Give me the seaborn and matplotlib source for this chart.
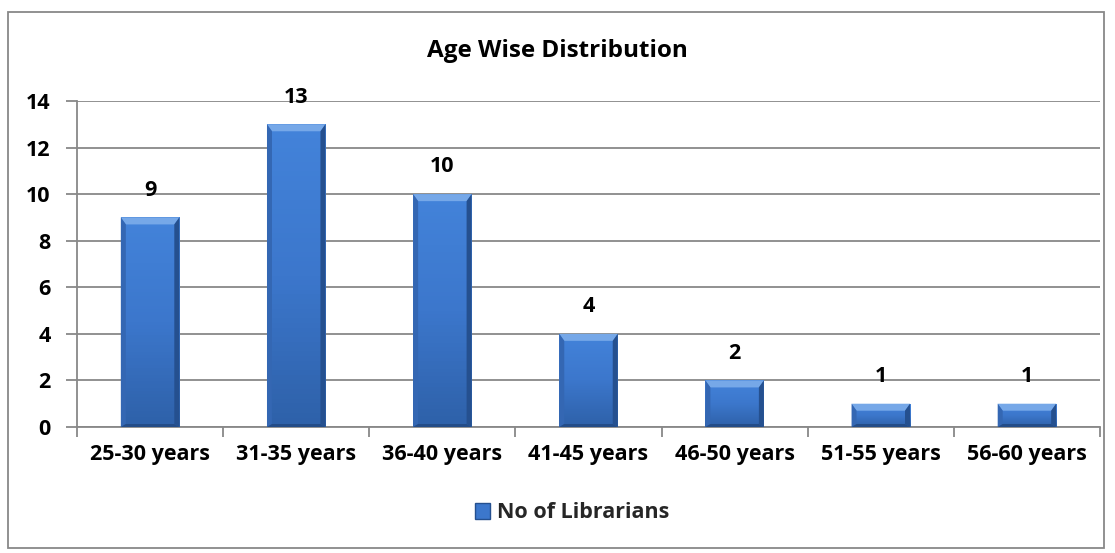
import matplotlib
matplotlib.use("Agg")
import matplotlib.pyplot as plt
import seaborn as sns
import pandas as pd
import numpy as np
from matplotlib.patches import Rectangle, Polygon
from matplotlib.colors import LinearSegmentedColormap

categories = ["25-30 years", "31-35 years", "36-40 years", "41-45 years",
              "46-50 years", "51-55 years", "56-60 years"]
values = [9, 13, 10, 4, 2, 1, 1]
series_name = "No of Librarians"
title = "Age Wise Distribution"
yticks = [0, 2, 4, 6, 8, 10, 12, 14]

sns.set_theme(style="white")
plt.rcParams['font.family'] = ['Open Sans', 'DejaVu Sans']

df = pd.DataFrame({"Age": categories, "Count": values})

W, H = 1115, 553
fig = plt.figure(figsize=(W / 100, H / 100), dpi=100)
ax = fig.add_axes([77/W, 1-427/H, (1100-77)/W, (427-101)/H])

base = "#3a72c4"
sns.barplot(data=df, x="Age", y="Count", ax=ax, color=base, width=0.4,
            saturation=1, edgecolor="none", zorder=3)

ax.set_ylim(0, 14)
ax.set_xlim(-0.5, len(categories) - 0.5)

# pixel -> data conversions for bevel sizes
ppx = ax.get_position().width * W / (len(categories))      # px per x unit
ppy = ax.get_position().height * H / 14.0                    # px per y unit
bx = 5.0 / ppx
by = 7.0 / ppy
bb = 3.0 / ppy

grad = LinearSegmentedColormap.from_list("g", ["#2e61a9", "#3c77cc", "#4383da"])
for p in list(ax.patches):
    x0, y0 = p.get_x(), p.get_y()
    w, h = p.get_width(), p.get_height()
    x1, y1 = x0 + w, y0 + h
    img = ax.imshow(np.linspace(0, 1, 64).reshape(-1, 1), cmap=grad, origin='lower',
                    extent=(x0, x1, y0, y1), aspect='auto', zorder=3.5)
    img.set_clip_path(p)
    top = Polygon([(x0, y1), (x1, y1), (x1 - bx, y1 - by), (x0 + bx, y1 - by)],
                  closed=True, facecolor="#76a8e8", edgecolor="none", zorder=4)
    left = Polygon([(x0, y0), (x0, y1), (x0 + bx, y1 - by), (x0 + bx, y0 + bb)],
                   closed=True, facecolor="#3467b3", edgecolor="none", zorder=4)
    right = Polygon([(x1, y0), (x1, y1), (x1 - bx, y1 - by), (x1 - bx, y0 + bb)],
                    closed=True, facecolor="#25508f", edgecolor="none", zorder=4)
    bottom = Polygon([(x0, y0), (x1, y0), (x1 - bx, y0 + bb), (x0 + bx, y0 + bb)],
                     closed=True, facecolor="#234c88", edgecolor="none", zorder=4)
    for poly in (top, left, right, bottom):
        ax.add_patch(poly)

ax.set_xlim(-0.5, len(categories) - 0.5)
ax.set_ylim(0, 14)
ax.set_yticks(yticks)
ax.set_yticklabels([str(t) for t in yticks], fontsize=15.5, fontweight='bold')
ax.set_xticks(range(len(categories)))
ax.set_xticklabels(categories, fontsize=15.5, fontweight='bold')
ax.set_xlabel("")
ax.set_ylabel("")
ax.grid(axis='y', color='#888888', linewidth=1.3, zorder=0)
ax.set_axisbelow(True)
for s in ["top", "right"]:
    ax.spines[s].set_visible(False)
for s in ["left", "bottom"]:
    ax.spines[s].set_color("#888888")
    ax.spines[s].set_linewidth(1.3)

ax.tick_params(axis='y', which='major', left=True, length=8, width=1.3,
               color="#888888", pad=11, labelcolor='black')
ax.tick_params(axis='x', which='major', bottom=False, length=0, pad=12, labelcolor='black')
ax.set_xticks(np.arange(-0.5, len(categories) + 0.5, 1), minor=True)
ax.tick_params(axis='x', which='minor', bottom=True, length=7, width=1.3,
               color="#888888", direction='out')

for i, v in enumerate(values):
    ax.annotate(str(v), xy=(i, v), xytext=(0, 12), textcoords='offset points',
                ha='center', va='bottom', fontsize=15.5, fontweight='bold', color='black')

fig.text(0.5, 1 - 51/H, title, ha='center', va='center', fontsize=17.5,
         fontweight='bold', color='black')

# legend
handle = Rectangle((0, 0), 1, 1, facecolor="#3c77cc", edgecolor="#25508f")
fig.legend([handle], [series_name], loc='center', bbox_to_anchor=(572/W, 1 - 513/H),
           frameon=False, prop={'size': 15.5, 'weight': 'bold'},
           handlelength=0.7, handleheight=0.7, handletextpad=0.35)

# outer border
fig.patches.append(Rectangle((8/W, 1 - 548/H), (1104-8)/W, (548-12)/H,
                             transform=fig.transFigure, fill=False,
                             edgecolor="#888888", linewidth=1.3))

fig.savefig("out.png", dpi=100)
